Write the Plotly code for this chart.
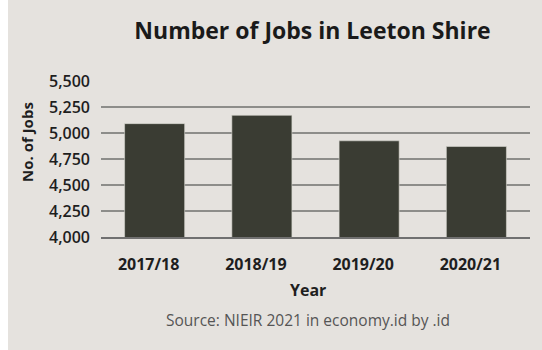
import plotly.graph_objects as go

# Data
years = ["2017/18", "2018/19", "2019/20", "2020/21"]
jobs = [5090, 5170, 4925, 4870]
y_ticks = [4000, 4250, 4500, 4750, 5000, 5250, 5500]

W, H = 542, 350
L, R, T, B = 101, 12, 81, 113
pw, ph = W - L - R, H - T - B

def px_x(x):
    return (x - L) / pw

def px_y(y):
    return (H - B - y) / ph

font = "Open Sans, DejaVu Sans, sans-serif"
bg = "#e5e2de"

fig = go.Figure(
    go.Bar(
        x=years,
        y=jobs,
        width=0.56,
        marker=dict(color="#3a3c33", line=dict(color="#d8d6d0", width=0.6)),
        hovertemplate="%{x}: %{y:,}<extra></extra>",
    )
)

fig.update_layout(
    width=W,
    height=H,
    margin=dict(l=L, r=R, t=T, b=B),
    paper_bgcolor="white",
    plot_bgcolor=bg,
    showlegend=False,
    bargap=0.44,
    font=dict(family=font, color="#1e1e1e"),
    title=dict(
        text="<b>Number of Jobs in Leeton Shire</b>",
        x=312.5 / W,
        xref="container",
        xanchor="center",
        y=1 - 31 / H,
        yref="container",
        yanchor="middle",
        font=dict(size=23, color="#1a1a1a", family=font),
    ),
    shapes=[
        dict(
            type="rect", xref="paper", yref="paper",
            x0=px_x(8), x1=px_x(W + 5), y0=px_y(H + 5), y1=px_y(-5),
            fillcolor=bg, line=dict(width=0), layer="below",
        )
    ],
    annotations=[
        dict(
            text="<b>Year</b>", xref="paper", yref="paper",
            x=px_x(308), y=px_y(290), showarrow=False,
            xanchor="center", yanchor="middle",
            font=dict(size=16, color="#1e1e1e", family=font),
        ),
        dict(
            text="Source: NIEIR 2021 in economy.id by .id", xref="paper", yref="paper",
            x=px_x(307.5), y=px_y(320), showarrow=False,
            xanchor="center", yanchor="middle",
            font=dict(size=15.5, color="#555555", family=font),
        ),
        dict(
            text="<b>No. of Jobs</b>", xref="paper", yref="paper",
            x=px_x(27), y=px_y(142), showarrow=False, textangle=-90,
            xanchor="center", yanchor="middle",
            font=dict(size=15, color="#1e1e1e", family=font),
        ),
    ],
)

fig.update_yaxes(
    range=[4000, 5500],
    tickvals=y_ticks,
    tickformat=",",
    showgrid=True,
    gridcolor="#8d8d8a",
    gridwidth=1.6,
    zeroline=False,
    ticks="",
    ticklabelstandoff=10,
    tickfont=dict(size=16, color="#1e1e1e", family=font, weight=600),
    showline=False,
)

fig.update_xaxes(
    showgrid=False,
    ticks="",
    showline=True,
    linecolor="#707070",
    linewidth=2,
    ticklabelstandoff=12,
    ticklabelshift=-6,
    tickfont=dict(size=16, color="#1e1e1e", family=font, weight="bold"),
)

fig.write_html("out.html")
